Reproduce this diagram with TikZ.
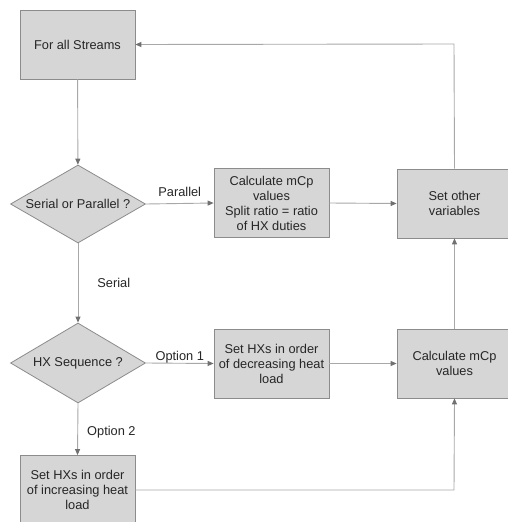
\documentclass[tikz,border=0pt]{standalone}
\usepackage{fontspec}
\setmainfont{Liberation Sans}
\usetikzlibrary{shapes.geometric,arrows.meta}
\definecolor{boxfill}{HTML}{D6D6D6}
\definecolor{boxline}{HTML}{8C8C8C}
\definecolor{conn}{HTML}{A8A8A8}
\definecolor{tipc}{HTML}{707070}
\definecolor{txt}{HTML}{262626}
\tikzset{
  procbox/.style={draw=boxline, fill=boxfill, line width=0.8pt, minimum width=115pt, minimum height=69pt, inner sep=0pt, align=center, text=txt, font=\fontsize{12.8}{15}\selectfont},
  decbox/.style={diamond, draw=boxline, fill=boxfill, line width=0.8pt, minimum width=135pt, minimum height=79pt, aspect=1.7, inner sep=0pt, align=center, text=txt, font=\fontsize{12.8}{15}\selectfont},
  flow/.style={draw=conn, line width=0.9pt, -{Triangle[length=6pt,width=5pt,color=tipc]}},
  lbl/.style={text=txt, font=\fontsize{12.8}{15}\selectfont, inner sep=0pt}
}
\begin{document}
\begin{tikzpicture}[x=1pt,y=-1pt]
\clip (0,0) rectangle (508,522);
\fill[white] (0,0) rectangle (508,522);
\node[procbox] (start) at (77.5,44.5) {For all Streams};
\node[decbox, minimum width=135pt, minimum height=78pt] (d1) at (78,204) {Serial or Parallel ?};
\node[procbox] (calc1) at (271.5,203) {Calculate mCp\\values\\Split ratio = ratio\\of HX duties};
\node[procbox] (other) at (454.5,203.5) {Set other\\variables};
\node[decbox, minimum width=135pt, minimum height=80pt] (d2) at (78,363) {HX Sequence ?};
\node[procbox] (dec) at (271.5,363.5) {Set HXs in order\\of decreasing heat\\load};
\node[procbox] (calc2) at (454.5,363.5) {Calculate mCp\\values};
\node[procbox] (inc) at (77.5,490) {Set HXs in order\\of increasing heat\\load};
\coordinate (topright) at (454,44);
\coordinate (botright) at (454,490);

\draw[flow] (start) -- (d1);
\draw[flow] (d1.east) -- node[lbl, above=6pt] {Parallel} (calc1.west);
\draw[flow] (calc1.east) -- (other.west);
\draw[flow] (d1.south) -- node[lbl, pos=0.5, right=19pt] {Serial} (d2.north);
\draw[flow] (d2.east) -- node[lbl, above=0pt] {Option 1} (dec.west);
\draw[flow] (dec.east) -- (calc2.west);
\draw[flow] (d2.south) -- node[lbl, pos=0.55, right=9pt] {Option 2} (inc.north);
\draw[flow] (inc.east) -- (botright) -- (calc2.south);
\draw[flow] (calc2.north) -- (other.south);
\draw[flow] (other.north) -- (topright) -- (start.east);
\end{tikzpicture}
\end{document}
